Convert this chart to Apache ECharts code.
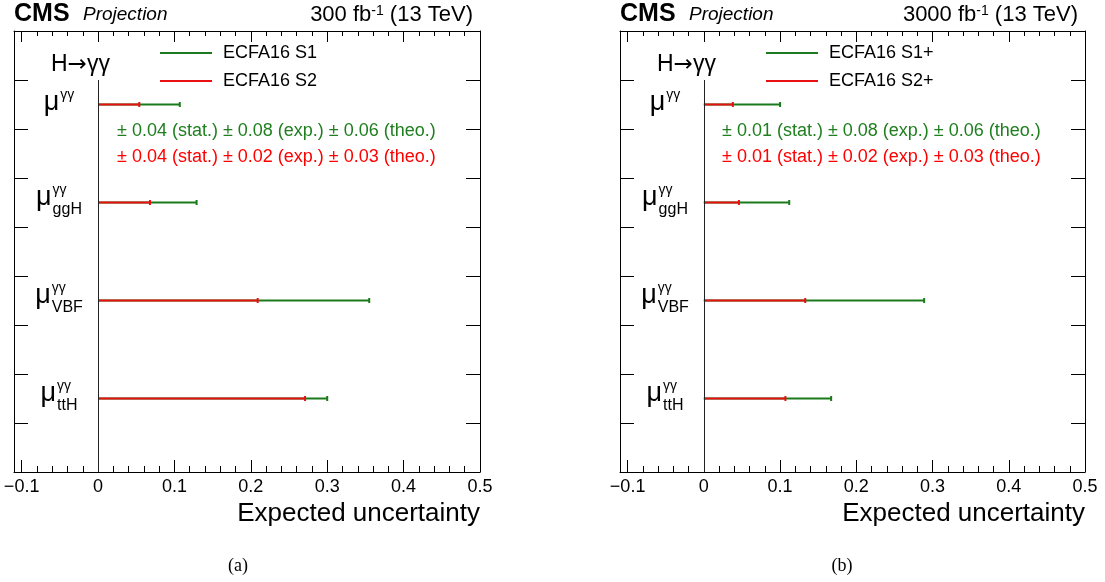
<!DOCTYPE html>
<html><head><meta charset="utf-8">
<script src="https://cdn.jsdelivr.net/npm/echarts@6/dist/echarts.min.js"></script>
<style>html,body{margin:0;padding:0;background:#fff}#c{width:1105px;height:582px}</style>
</head><body><div id="c"></div>
<script>
// ---------------- data ----------------
const categoryMain = ['μ', 'μ', 'μ', 'μ'];
const categorySup = ['γγ', 'γγ', 'γγ', 'γγ'];
const categorySub = ['', 'ggH', 'VBF', 'ttH'];
const categoryPos = [7.5, 5.5, 3.5, 1.5];

const s1_300 = [0.107, 0.129, 0.355, 0.300];
const s2_300 = [0.054, 0.068, 0.209, 0.271];
const s1_3000 = [0.100, 0.112, 0.289, 0.167];
const s2_3000 = [0.038, 0.046, 0.133, 0.107];

const seriesNames300 = ['ECFA16 S1', 'ECFA16 S2'];
const seriesNames3000 = ['ECFA16 S1+', 'ECFA16 S2+'];

const ann300 = ['± 0.04 (stat.) ± 0.08 (exp.) ± 0.06 (theo.)', '± 0.04 (stat.) ± 0.02 (exp.) ± 0.03 (theo.)'];
const ann3000 = ['± 0.01 (stat.) ± 0.08 (exp.) ± 0.06 (theo.)', '± 0.01 (stat.) ± 0.02 (exp.) ± 0.03 (theo.)'];

const xMajorTicks = [-0.1, 0, 0.1, 0.2, 0.3, 0.4, 0.5];
const xMinorTicks = [-0.1, -0.08, -0.06, -0.04, -0.02, 0, 0.02, 0.04, 0.06, 0.08, 0.1, 0.12, 0.14, 0.16, 0.18, 0.2,
  0.22, 0.24, 0.26, 0.28, 0.3, 0.32, 0.34, 0.36, 0.38, 0.4, 0.42, 0.44, 0.46, 0.48, 0.5];
const yTicks = [1, 2, 3, 4, 5, 6, 7, 8];
const zeroLineRange = [0, 8];

// ---------------- style ----------------
const FONT = '"Liberation Sans", Arial, Helvetica, sans-serif';
const SERIF = '"Liberation Serif", "DejaVu Serif", serif';
const GREEN = '#1b7a1b';
const GREEN_TXT = '#1f7f1f';
const RED = '#e81010';
const RED_TXT = '#ff0000';

const mctx = document.createElement('canvas').getContext('2d');
function tw(t, size) { mctx.font = size + 'px ' + FONT; return mctx.measureText(t).width; }

const panels = [
  { left: 14, width: 466, s1: s1_300, s2: s2_300, names: seriesNames300, ann: ann300, lumi: '300', cap: '(a)', capX: 238, legLeft: 160, annLeft: 117 },
  { left: 620, width: 465, s1: s1_3000, s2: s2_3000, names: seriesNames3000, ann: ann3000, lumi: '3000', cap: '(b)', capX: 842, legLeft: 766, annLeft: 722 }
];

function barRender(color) {
  return function (params, api) {
    const y = api.value(1);
    const a = api.coord([0, y]);
    const b = api.coord([api.value(0), y]);
    return {
      type: 'group',
      children: [
        { type: 'line', shape: { x1: a[0], y1: a[1], x2: b[0], y2: b[1] }, style: { stroke: color, lineWidth: 2 } },
        { type: 'line', shape: { x1: b[0], y1: b[1] - 2.5, x2: b[0], y2: b[1] + 2.5 }, style: { stroke: color, lineWidth: 2 } }
      ]
    };
  };
}

function labelRender(params, api) {
  const i = params.dataIndex;
  const p = api.coord([api.value(0), api.value(1)]);
  const main = categoryMain[i], sup = categorySup[i], sub = categorySub[i];
  const wMain = tw(main, 27), wSup = tw(sup, 14), wSub = sub ? tw(sub, 16) : 0;
  const total = wMain + 1 + Math.max(wSup, wSub);
  const cx = p[0] + 45;
  const x0 = cx - total / 2;
  const base = p[1] + (sub ? 3 : 6);
  const children = [
    { type: 'text', x: x0, y: base - 8.3, style: { text: main, font: '27px ' + FONT, fill: '#000', align: 'left', verticalAlign: 'middle' } },
    { type: 'text', x: x0 + wMain + 1, y: base - 15, style: { text: sup, font: '14px ' + FONT, fill: '#000', align: 'left', verticalAlign: 'middle' } }
  ];
  if (sub) children.push({ type: 'text', x: x0 + wMain + 1, y: base + 4.3, style: { text: sub, font: '16px ' + FONT, fill: '#000', align: 'left', verticalAlign: 'middle' } });
  return { type: 'group', children };
}

const grid = [], xAxis = [], yAxis = [], series = [], legend = [], graphic = [];
const tickFmt = v => (v < 0 ? '−' + Math.abs(v) : String(v));

panels.forEach((P, p) => {
  grid.push({ left: P.left, top: 31, width: P.width, height: 441, containLabel: false });
  const base = { gridIndex: p, type: 'value', min: -0.11, max: 0.5, splitLine: { show: false } };
  xAxis.push(Object.assign({}, base, {
    position: 'bottom',
    axisLine: { show: true, onZero: false, lineStyle: { color: '#000', width: 1 } },
    axisTick: { show: true, inside: true, length: 12, customValues: xMajorTicks, lineStyle: { color: '#000', width: 1 } },
    axisLabel: { show: true, customValues: xMajorTicks, formatter: tickFmt, margin: 6, fontSize: 18, fontFamily: FONT, color: '#000' },
    name: 'Expected uncertainty', nameLocation: 'end', nameGap: 0,
    nameTextStyle: { fontSize: 26, fontFamily: FONT, color: '#000', align: 'right', verticalAlign: 'top', padding: [29, 0, 0, 0] }
  }));
  xAxis.push(Object.assign({}, base, {
    position: 'bottom',
    axisLine: { show: false, onZero: false },
    axisTick: { show: true, inside: true, length: 6, customValues: xMinorTicks, lineStyle: { color: '#000', width: 1 } },
    axisLabel: { show: false }
  }));
  xAxis.push(Object.assign({}, base, {
    position: 'top',
    axisLine: { show: true, onZero: false, lineStyle: { color: '#000', width: 1 } },
    axisTick: { show: true, inside: true, length: 11, customValues: xMajorTicks, lineStyle: { color: '#000', width: 1 } },
    axisLabel: { show: false }
  }));
  xAxis.push(Object.assign({}, base, {
    position: 'top',
    axisLine: { show: false, onZero: false },
    axisTick: { show: true, inside: true, length: 5, customValues: xMinorTicks, lineStyle: { color: '#000', width: 1 } },
    axisLabel: { show: false }
  }));
  const ybase = { gridIndex: p, type: 'value', min: 0, max: 9, interval: 1, splitLine: { show: false }, axisLabel: { show: false } };
  yAxis.push(Object.assign({}, ybase, {
    position: 'left',
    axisLine: { show: true, onZero: false, lineStyle: { color: '#000', width: 1 } },
    axisTick: { show: true, inside: true, length: 14, customValues: yTicks, lineStyle: { color: '#000', width: 1 } }
  }));
  yAxis.push(Object.assign({}, ybase, {
    position: 'right',
    axisLine: { show: true, onZero: false, lineStyle: { color: '#000', width: 1 } },
    axisTick: { show: true, inside: true, length: 14, customValues: yTicks, lineStyle: { color: '#000', width: 1 } }
  }));

  const xi = p * 4, yi = p * 2;
  series.push({
    type: 'custom', name: P.names[0], xAxisIndex: xi, yAxisIndex: yi, z: 3,
    itemStyle: { color: GREEN },
    data: P.s1.map((v, i) => [v, categoryPos[i]]),
    encode: { x: 0, y: 1 },
    renderItem: barRender(GREEN),
    markLine: {
      silent: true, symbol: 'none', animation: false,
      label: { show: false },
      lineStyle: { color: '#222', width: 1, type: 'solid' },
      data: [[{ coord: [0, zeroLineRange[0]] }, { coord: [0, zeroLineRange[1]] }]]
    }
  });
  series.push({
    type: 'custom', name: P.names[1], xAxisIndex: xi, yAxisIndex: yi, z: 4,
    itemStyle: { color: RED },
    data: P.s2.map((v, i) => [v, categoryPos[i]]),
    encode: { x: 0, y: 1 },
    renderItem: barRender(RED)
  });
  series.push({
    type: 'custom', name: 'labels' + p, xAxisIndex: xi, yAxisIndex: yi, z: 5, silent: true,
    data: categoryPos.map(v => [-0.11, v]),
    encode: { x: 0, y: 1 },
    renderItem: labelRender
  });

  legend.push({
    data: P.names, left: P.legLeft, top: 44, padding: 0, orient: 'vertical', icon: 'rect',
    itemWidth: 52, itemHeight: 2, itemGap: 10, selectedMode: false,
    textStyle: { fontSize: 18, fontFamily: FONT, color: '#000', padding: [0, 0, 0, 6] }
  });

  graphic.push({ type: 'text', x: P.left, y: 14, style: { text: 'CMS', font: 'bold 25px ' + FONT, fill: '#000', verticalAlign: 'middle' } });
  graphic.push({ type: 'text', x: P.left + 69, y: 14.8, style: { text: 'Projection', font: 'italic 19px ' + FONT, fill: '#000', verticalAlign: 'middle' } });
  graphic.push({
    type: 'text', x: P.left + P.width - 7, y: 15,
    style: {
      text: '{a|' + P.lumi + ' fb}{s|-1}{a| (13 TeV)}', align: 'right', verticalAlign: 'middle',
      rich: {
        a: { font: '22px ' + FONT, fill: '#000', verticalAlign: 'bottom' },
        s: { font: '14px ' + FONT, fill: '#000', verticalAlign: 'top' }
      }
    }
  });
  graphic.push({
    type: 'text', x: P.left + 37, y: 64.6, z: 10,
    style: {
      text: '{h|H}{a|→}{g|γγ}', verticalAlign: 'middle',
      rich: {
        h: { font: '23px ' + FONT, fill: '#000' },
        a: { font: '23px "DejaVu Sans", sans-serif', fill: '#000' },
        g: { font: '23px ' + FONT, fill: '#000' }
      }
    }
  });
  graphic.push({ type: 'text', x: P.annLeft, y: 131, style: { text: P.ann[0], font: '18px ' + FONT, fill: GREEN_TXT, verticalAlign: 'middle' } });
  graphic.push({ type: 'text', x: P.annLeft, y: 157, style: { text: P.ann[1], font: '18px ' + FONT, fill: RED_TXT, verticalAlign: 'middle' } });
  graphic.push({ type: 'text', x: P.capX, y: 566, style: { text: P.cap, font: '18px ' + SERIF, fill: '#000', align: 'center', verticalAlign: 'middle' } });
});

const chart = echarts.init(document.getElementById('c'), null, { renderer: 'canvas' });
chart.setOption({
  animation: false,
  backgroundColor: '#fff',
  grid, xAxis, yAxis, series, legend, graphic
});
</script>
</body></html>
